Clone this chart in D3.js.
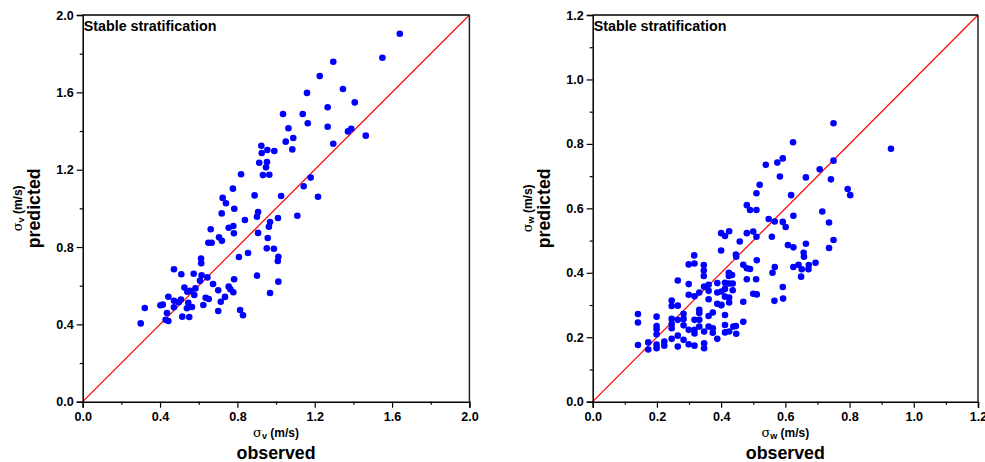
<!DOCTYPE html>
<html><head><meta charset="utf-8">
<script src="https://cdn.jsdelivr.net/npm/d3@7"></script>
<style>
html,body{margin:0;padding:0;background:#fff;}
svg{display:block;font-family:"Liberation Sans",Arial,sans-serif;}
</style></head>
<body><svg id="chart" width="985" height="462"></svg>
<script>
// ---- Left panel: sigma_v ----
const leftObs = [1.640,1.550,1.296,1.226,1.346,1.160,1.407,1.267,1.036,1.138,1.164,1.267,1.064,1.389,1.372,1.464,1.089,1.050,1.296,0.924,1.084,0.955,0.991,0.926,0.913,0.953,0.948,0.932,0.965,0.819,1.179,1.143,0.777,0.889,1.026,1.217,0.784,0.907,0.901,1.110,0.839,1.010,0.969,0.779,0.963,0.782,0.907,0.957,0.724,0.741,0.719,0.662,0.755,0.705,0.720,0.650,0.667,0.952,0.989,1.012,1.009,0.855,0.808,0.612,0.613,0.472,0.510,0.574,0.615,0.645,0.607,0.783,0.901,1.012,0.674,0.583,0.526,0.541,0.555,0.701,0.755,0.764,0.779,0.969,0.577,0.443,0.636,0.652,0.736,0.714,0.472,0.508,0.496,0.402,0.414,0.546,0.472,0.539,0.565,0.624,0.321,0.436,0.701,0.814,0.829,0.515,0.551,0.429,0.443,0.300];
const leftPred = [1.903,1.779,1.758,1.684,1.617,1.597,1.548,1.523,1.488,1.488,1.440,1.422,1.414,1.412,1.398,1.376,1.364,1.345,1.334,1.324,1.305,1.302,1.297,1.286,1.236,1.240,1.212,1.172,1.174,1.176,1.159,1.114,1.102,1.067,1.064,1.060,0.998,0.981,0.957,0.962,0.940,0.950,0.929,0.909,0.905,0.871,0.873,0.847,1.054,1.026,0.974,0.892,0.900,0.850,0.832,0.822,0.822,0.793,0.791,0.750,0.728,0.769,0.748,0.740,0.716,0.685,0.659,0.662,0.654,0.643,0.626,0.633,0.652,0.621,0.609,0.586,0.590,0.569,0.573,0.576,0.595,0.581,0.566,0.562,0.552,0.543,0.538,0.531,0.542,0.517,0.522,0.528,0.514,0.499,0.502,0.512,0.488,0.483,0.490,0.500,0.485,0.459,0.469,0.474,0.447,0.440,0.438,0.424,0.417,0.405];
const leftMajorTicks = [0.0,0.4,0.8,1.2,1.6,2.0];
const leftMinorTicks = [0.2,0.6,1.0,1.4,1.8];

// ---- Right panel: sigma_w ----
const rightObs = [0.750,0.929,0.624,0.592,0.575,0.539,0.750,0.583,0.707,0.664,0.742,0.520,0.510,0.794,0.802,0.618,0.480,0.490,0.510,0.715,0.625,0.548,0.567,0.592,0.601,0.736,0.480,0.500,0.510,0.558,0.750,0.400,0.412,0.425,0.458,0.608,0.625,0.664,0.736,0.400,0.316,0.446,0.447,0.657,0.658,0.299,0.317,0.511,0.469,0.694,0.641,0.673,0.567,0.625,0.480,0.490,0.651,0.672,0.560,0.649,0.592,0.593,0.566,0.509,0.480,0.424,0.434,0.346,0.346,0.346,0.141,0.141,0.141,0.173,0.173,0.199,0.199,0.199,0.199,0.199,0.199,0.223,0.223,0.246,0.246,0.246,0.246,0.246,0.246,0.265,0.265,0.265,0.265,0.265,0.283,0.283,0.283,0.283,0.299,0.299,0.299,0.299,0.317,0.317,0.317,0.317,0.317,0.332,0.332,0.332,0.332,0.332,0.347,0.347,0.347,0.347,0.361,0.361,0.361,0.361,0.361,0.374,0.374,0.374,0.388,0.388,0.388,0.388,0.401,0.401,0.412,0.412,0.412,0.412,0.412,0.412,0.425,0.425,0.425,0.425,0.436,0.436,0.438,0.446,0.447,0.469,0.469,0.500,0.511,0.424,0.400];
const rightPred = [0.864,0.785,0.805,0.755,0.742,0.735,0.748,0.699,0.721,0.696,0.690,0.673,0.647,0.660,0.641,0.641,0.610,0.595,0.595,0.590,0.577,0.567,0.559,0.558,0.542,0.556,0.523,0.528,0.512,0.512,0.502,0.523,0.514,0.529,0.497,0.486,0.479,0.490,0.477,0.469,0.454,0.457,0.450,0.462,0.450,0.426,0.429,0.439,0.425,0.431,0.425,0.424,0.418,0.418,0.414,0.412,0.411,0.411,0.400,0.388,0.356,0.320,0.313,0.380,0.380,0.400,0.393,0.424,0.407,0.390,0.272,0.246,0.176,0.184,0.162,0.264,0.235,0.225,0.209,0.177,0.166,0.187,0.174,0.314,0.297,0.257,0.241,0.228,0.195,0.376,0.298,0.254,0.205,0.171,0.273,0.257,0.237,0.192,0.365,0.332,0.223,0.178,0.327,0.254,0.223,0.212,0.174,0.339,0.285,0.275,0.233,0.254,0.357,0.218,0.181,0.166,0.363,0.344,0.318,0.266,0.233,0.277,0.228,0.214,0.368,0.339,0.304,0.195,0.342,0.301,0.369,0.350,0.326,0.269,0.238,0.215,0.367,0.323,0.308,0.218,0.367,0.346,0.233,0.235,0.211,0.310,0.248,0.335,0.333,0.390,0.299];
const rightMajorTicks = [0.0,0.2,0.4,0.6,0.8,1.0,1.2];
const rightMinorTicks = [0.1,0.3,0.5,0.7,0.9,1.1];

const titleText = "Stable stratification";

const svg = d3.select("#chart");
const fmt = d3.format(".1f");

function panel(cfg){
  const g = svg.append("g");
  const x = d3.scaleLinear().domain([0, cfg.max]).range([cfg.x0, cfg.x1]);
  const y = d3.scaleLinear().domain([0, cfg.max]).range([cfg.y0, cfg.y1]);

  // red 1:1 line
  g.append("line")
    .attr("x1", x(0)).attr("y1", y(0)).attr("x2", x(cfg.max)).attr("y2", y(cfg.max))
    .attr("stroke", "#ff0000").attr("stroke-width", 1.2);

  // points
  g.append("g").selectAll("circle").data(cfg.obs.map((o,i)=>[o,cfg.pred[i]])).join("circle")
    .attr("cx", d=>x(d[0])).attr("cy", d=>y(d[1])).attr("r", 3.3).attr("fill", "#0000ff");

  // frame top/right
  g.append("line").attr("x1", x(0)).attr("x2", x(cfg.max)).attr("y1", y(cfg.max)).attr("y2", y(cfg.max))
    .attr("stroke", "#000").attr("stroke-width", 1.3);
  g.append("line").attr("x1", x(cfg.max)).attr("x2", x(cfg.max)).attr("y1", y(0)).attr("y2", y(cfg.max))
    .attr("stroke", "#222").attr("stroke-width", 1.5);

  // axes
  const xAxis = d3.axisBottom(x).tickValues(cfg.major).tickFormat(fmt).tickSize(6).tickPadding(4);
  const yAxis = d3.axisLeft(y).tickValues(cfg.major).tickFormat(fmt).tickSize(6).tickPadding(3);
  const xa = g.append("g").attr("transform", `translate(0,${cfg.y0})`).call(xAxis);
  const ya = g.append("g").attr("transform", `translate(${cfg.x0},0)`).call(yAxis);
  [xa, ya].forEach(a=>{
    a.select(".domain").attr("stroke", "#000").attr("stroke-width", 1.5);
    a.selectAll(".tick line").attr("stroke", "#000").attr("stroke-width", 1.2);
    a.selectAll(".tick text").attr("fill", "#000").style("font-size", "12.6px").style("font-weight", "bold")
      .style("font-family", "'Liberation Sans',Arial,sans-serif");
  });
  // minor ticks
  g.append("g").attr("transform", `translate(0,${cfg.y0})`)
    .call(d3.axisBottom(x).tickValues(cfg.minor).tickFormat("").tickSize(3))
    .call(a=>{a.select(".domain").remove(); a.selectAll(".tick line").attr("stroke","#000").attr("stroke-width",1.2);});
  g.append("g").attr("transform", `translate(${cfg.x0},0)`)
    .call(d3.axisLeft(y).tickValues(cfg.minor).tickFormat("").tickSize(3))
    .call(a=>{a.select(".domain").remove(); a.selectAll(".tick line").attr("stroke","#000").attr("stroke-width",1.2);});

  // title
  g.append("text").attr("x", cfg.x0 + 1).attr("y", cfg.y1 + 16)
    .style("font-size", "14.3px").style("font-weight", "bold").text(titleText);

  const cx = (cfg.x0 + cfg.x1) / 2;
  // x label
  const xl = g.append("text").attr("x", cx).attr("y", cfg.y0 + 35).attr("text-anchor", "middle")
    .style("font-size", "12px").style("font-weight", "bold");
  xl.append("tspan").style("font-weight", "normal").style("font-family", "'DejaVu Serif',serif").style("font-size","13px").text("σ");
  xl.append("tspan").attr("dy", 2.5).style("font-size", "9px").text(cfg.sub);
  xl.append("tspan").attr("dy", -2.5).text(" (m/s)");
  g.append("text").attr("x", cx).attr("y", cfg.y0 + 57).attr("text-anchor", "middle")
    .style("font-size", "17.8px").style("font-weight", "bold").text("observed");

  // y label
  const cy = (cfg.y0 + cfg.y1) / 2;
  const yl = g.append("text").attr("transform", `translate(${cfg.x0 - 61},${cy}) rotate(-90)`)
    .attr("text-anchor", "middle").style("font-size", "12px").style("font-weight", "bold");
  yl.append("tspan").style("font-weight", "normal").style("font-family", "'DejaVu Serif',serif").style("font-size","13px").text("σ");
  yl.append("tspan").attr("dy", 2.5).style("font-size", "9px").text(cfg.sub);
  yl.append("tspan").attr("dy", -2.5).text(" (m/s)");
  g.append("text").attr("transform", `translate(${cfg.x0 - 43},${cy}) rotate(-90)`)
    .attr("text-anchor", "middle").style("font-size", "17.8px").style("font-weight", "bold").text("predicted");
}

panel({obs:leftObs, pred:leftPred, max:2.0, major:leftMajorTicks, minor:leftMinorTicks,
       x0:82.7, x1:469.4, y0:401.7, y1:15, sub:"v"});
panel({obs:rightObs, pred:rightPred, max:1.2, major:rightMajorTicks, minor:rightMinorTicks,
       x0:592.7, x1:978, y0:401.7, y1:15, sub:"w"});
</script></body></html>
